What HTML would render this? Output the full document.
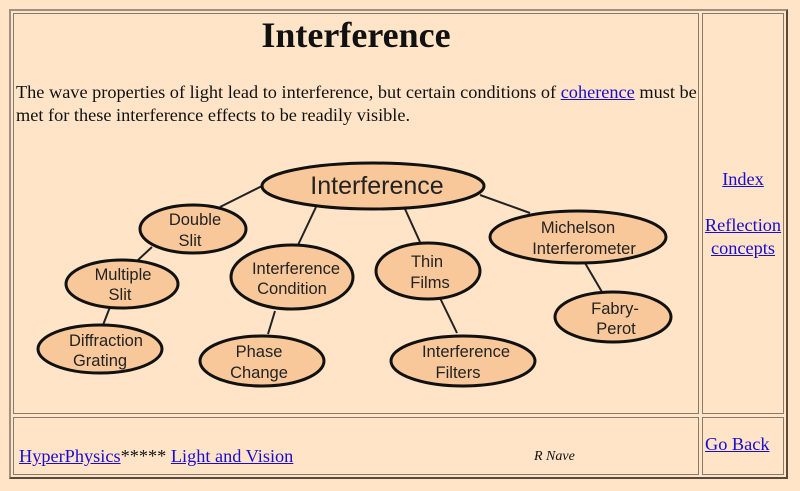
<!DOCTYPE html>
<html><head><meta charset="utf-8"><style>
body{margin:0;width:800px;height:491px;background:#FFE4C8;font-family:"Liberation Serif",serif;position:relative;overflow:hidden}
.b{position:absolute;border:1px solid #8a7a6a;box-sizing:border-box}
.t{position:absolute;color:#111}
a{color:#1a0dcc;text-decoration:underline}
</style></head><body>
<div class="b" style="left:9px;top:9px;width:779px;height:470px;border:2px solid #7a6a5a;border-color:#a09080 #5a4a3a #5a4a3a #a09080"></div>
<div class="b" style="left:13px;top:13px;width:686px;height:401px"></div>
<div class="b" style="left:702px;top:13px;width:82px;height:401px"></div>
<div class="b" style="left:13px;top:417px;width:686px;height:58px"></div>
<div class="b" style="left:702px;top:417px;width:82px;height:58px"></div>
<div class="t" style="left:0;width:712px;top:14px;text-align:center;font-weight:bold;font-size:36px">Interference</div>
<div class="t" style="left:16px;top:81px;font-size:18.3px;line-height:23px;width:690px">The wave properties of light lead to interference, but certain conditions of <a>coherence</a> must be<br>met for these interference effects to be readily visible.</div>
<svg style="position:absolute;left:0;top:0" width="800" height="491" font-family="Liberation Sans, sans-serif" fill="#222">
<g stroke="#222" stroke-width="2">
<line x1="262" y1="186" x2="220" y2="207"/><line x1="316" y1="207" x2="298" y2="245"/>
<line x1="405" y1="209" x2="420" y2="242"/><line x1="480" y1="195" x2="530" y2="213"/>
<line x1="152" y1="247" x2="138" y2="260"/><line x1="110" y1="307" x2="103" y2="325"/>
<line x1="440" y1="298" x2="457" y2="333"/><line x1="585" y1="263" x2="602" y2="292"/>
<line x1="275" y1="311" x2="268" y2="334"/>
</g>
<g fill="#F9C89A" stroke="#111" stroke-width="3">
<ellipse cx="373" cy="186" rx="111" ry="23"/>
<ellipse cx="193" cy="229" rx="53" ry="24"/>
<ellipse cx="122" cy="284" rx="56" ry="24"/>
<ellipse cx="100" cy="349" rx="62" ry="24"/>
<ellipse cx="292" cy="277" rx="61" ry="32"/>
<ellipse cx="262" cy="361" rx="62" ry="25"/>
<ellipse cx="428" cy="271" rx="52" ry="28"/>
<ellipse cx="463" cy="361" rx="72" ry="25"/>
<ellipse cx="578" cy="237" rx="88" ry="26"/>
<ellipse cx="613" cy="317" rx="58" ry="25"/>
</g>
<g font-size="16.5" text-anchor="middle">
<text x="377" y="194" font-size="25">Interference</text>
<text x="195" y="225">Double</text><text x="190" y="246">Slit</text>
<text x="123" y="280">Multiple</text><text x="120" y="300">Slit</text>
<text x="106" y="346">Diffraction</text><text x="100" y="366">Grating</text>
<text x="296" y="274">Interference</text><text x="292" y="294">Condition</text>
<text x="259" y="357">Phase</text><text x="259" y="378">Change</text>
<text x="427" y="267">Thin</text><text x="430" y="288">Films</text>
<text x="466" y="357">Interference</text><text x="458" y="378">Filters</text>
<text x="578" y="233">Michelson</text><text x="584" y="254">Interferometer</text>
<text x="615" y="314">Fabry-</text><text x="616" y="334">Perot</text>
</g>
</svg>
<div class="t" style="left:702px;width:82px;top:168px;text-align:center;font-size:18.3px;line-height:23px"><a>Index</a><br><br><a>Reflection</a><br><a>concepts</a></div>
<div class="t" style="left:19px;top:446px;font-size:18.3px"><a>HyperPhysics</a>***** <a>Light and Vision</a></div>
<div class="t" style="left:534px;top:449px;font-size:14px;font-style:italic">R Nave</div>
<div class="t" style="left:705px;top:434px;font-size:18.3px"><a>Go Back</a></div>
</body></html>
